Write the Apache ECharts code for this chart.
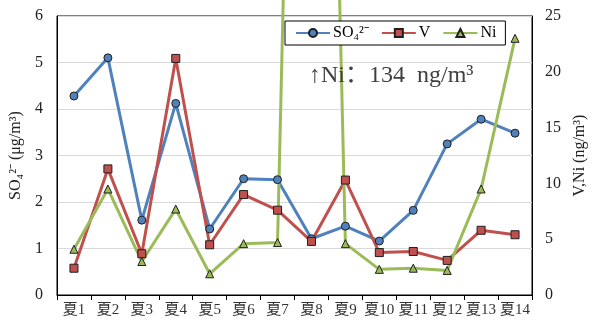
<!DOCTYPE html>
<html>
<head>
<meta charset="utf-8">
<script src="https://cdn.jsdelivr.net/npm/echarts@6/dist/echarts.min.js"></script>
<style>
html,body{margin:0;padding:0;background:#fff;}
#chart{width:597px;height:325px;}
</style>
</head>
<body>
<div id="chart"></div>
<script>
var categories = ['夏1','夏2','夏3','夏4','夏5','夏6','夏7','夏8','夏9','夏10','夏11','夏12','夏13','夏14'];
var so4 = [4.28, 5.10, 1.61, 4.12, 1.42, 2.50, 2.48, 1.21, 1.48, 1.16, 1.82, 3.25, 3.78, 3.48];
var vData = [2.4, 11.3, 3.7, 21.2, 4.5, 9.0, 7.6, 4.8, 10.3, 3.8, 3.9, 3.1, 5.8, 5.4];
var niData = [4.1, 9.5, 3.0, 7.7, 1.9, 4.6, 4.7, 134, 4.6, 2.3, 2.4, 2.2, 9.5, 23.0];
var leftTicks = [0, 6, 1];
var rightTicks = [0, 25, 5];

var serif = '"Liberation Serif", "Times New Roman", "Noto Sans CJK SC", serif';
var chart = echarts.init(document.getElementById('chart'), null, {renderer: 'canvas'});
var opt = {
  animation: false,
  backgroundColor: '#fff',
  textStyle: {fontFamily: serif},
  grid: {left: 57, right: 65, top: 16, bottom: 30, show: true, borderColor: '#000', borderWidth: 1, containLabel: false},
  legend: {
    left: 285, top: 21,
    backgroundColor: '#fff',
    borderColor: '#000', borderWidth: 1,
    padding: [4, 9, 4, 10],
    itemWidth: 34, itemHeight: 10, itemGap: 12,
    textStyle: {fontFamily: serif, fontSize: 16, color: '#000', padding: [0, 0, 0, -2]},
    data: ['SO₄²⁻', 'V', 'Ni']
  },
  xAxis: {
    type: 'category', data: categories, boundaryGap: true,
    axisLine: {lineStyle: {color: '#000', width: 1}},
    axisTick: {show: true, alignWithLabel: false, interval: 0, length: 5, lineStyle: {color: '#000'}},
    axisLabel: {interval: 0, fontSize: 15, color: '#333', margin: 8, fontFamily: serif}
  },
  yAxis: [{
    type: 'value', min: leftTicks[0], max: leftTicks[1], interval: leftTicks[2], position: 'left',
    axisLine: {show: true, lineStyle: {color: '#000'}},
    axisTick: {show: false},
    axisLabel: {fontSize: 16, color: '#222', margin: 14, fontFamily: serif},
    splitLine: {show: true, lineStyle: {color: '#d9d9d9', width: 1}},
    name: 'SO₄²⁻ (μg/m³)', nameLocation: 'middle', nameGap: 29, nameRotate: 90,
    nameTextStyle: {fontSize: 16, color: '#222', fontFamily: serif}
  }, {
    type: 'value', min: rightTicks[0], max: rightTicks[1], interval: rightTicks[2], position: 'right',
    axisLine: {show: true, lineStyle: {color: '#000'}},
    axisTick: {show: false},
    axisLabel: {fontSize: 16, color: '#222', margin: 13, fontFamily: serif},
    splitLine: {show: false},
    name: 'V,Ni (ng/m³)', nameLocation: 'middle', nameGap: 40, nameRotate: 90,
    nameTextStyle: {fontSize: 16, color: '#222', fontFamily: serif}
  }],
  graphic: [{
    type: 'text', left: 309, top: 64, z: 100,
    style: {text: '↑Ni：134  ng/m³', font: '24px ' + serif, fill: '#404040'}
  }],
  series: [{
    name: 'SO₄²⁻', type: 'line', yAxisIndex: 0, data: so4,
    symbol: 'circle', symbolSize: 8,
    lineStyle: {color: '#4F81BD', width: 3},
    itemStyle: {color: '#4F81BD', borderColor: '#1f1f1f', borderWidth: 1}
  }, {
    name: 'V', type: 'line', yAxisIndex: 1, data: vData,
    symbol: 'rect', symbolSize: 8,
    lineStyle: {color: '#C0504D', width: 3},
    itemStyle: {color: '#C0504D', borderColor: '#1f1f1f', borderWidth: 1}
  }, {
    name: 'Ni', type: 'line', yAxisIndex: 1, data: niData, clip: false,
    symbol: 'triangle', symbolSize: 8,
    lineStyle: {color: '#9BBB59', width: 3},
    itemStyle: {color: '#9BBB59', borderColor: '#1f1f1f', borderWidth: 1}
  }]
};
chart.setOption(opt);
</script>
</body>
</html>
